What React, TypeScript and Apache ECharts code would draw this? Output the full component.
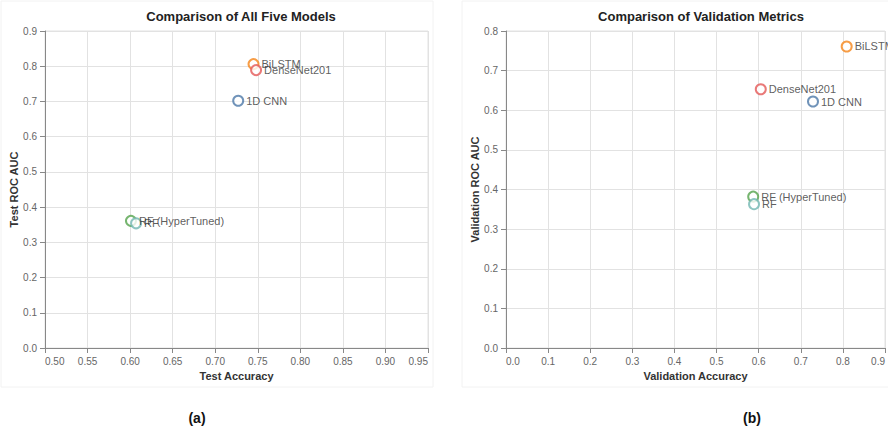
import React, { useEffect, useRef } from "react";
import * as echarts from "echarts";

const models = ["BiLSTM", "DenseNet201", "1D CNN", "RF (HyperTuned)", "RF"];
const colors = ["#f58518", "#e45756", "#4c78a8", "#54a24b", "#72b7b2"];
const testAccuracy = [0.745, 0.748, 0.727, 0.601, 0.607];
const testRocAuc = [0.806, 0.789, 0.702, 0.361, 0.354];
const valAccuracy = [0.809, 0.605, 0.729, 0.587, 0.589];
const valRocAuc = [0.761, 0.653, 0.622, 0.382, 0.363];

const FONT = "Liberation Sans, Arial, sans-serif";

function axisCommon(name: string, gap: number) {
  return {
    type: "value" as const,
    name,
    nameLocation: "middle" as const,
    nameGap: gap,
    nameTextStyle: { fontFamily: FONT, fontSize: 11, fontWeight: "bold", color: "#333" },
    axisLine: { show: true, lineStyle: { color: "#888", width: 1 } },
    axisTick: { show: true, length: 5, lineStyle: { color: "#888" } },
    axisLabel: {
      fontFamily: FONT,
      fontSize: 10,
      color: "#666",
      formatter: (v: number) => v.toFixed(1),
    },
    splitLine: { show: true, lineStyle: { color: "#e2e2e2", width: 1 } },
  };
}

export default function App() {
  const ref = useRef<HTMLDivElement>(null);
  useEffect(() => {
    if (!ref.current) return;
    const chart = echarts.init(ref.current, undefined, { renderer: "svg" });

    const series: any[] = [];
    models.forEach((m, i) => {
      const mk = (xi: number, yi: number, xv: number, yv: number) => ({
        type: "scatter",
        name: m,
        xAxisIndex: xi,
        yAxisIndex: yi,
        symbol: "emptyCircle",
        symbolSize: 10,
        itemStyle: { color: colors[i], borderColor: colors[i], borderWidth: 1.5 },
        label: {
          show: true,
          position: "right",
          distance: 2,
          formatter: m,
          fontFamily: FONT,
          fontSize: 11,
          color: "#333",
        },
        data: [[xv, yv]],
      });
      series.push(mk(0, 0, testAccuracy[i], testRocAuc[i]));
      series.push(mk(1, 1, valAccuracy[i], valRocAuc[i]));
    });

    const xLeft: any = axisCommon("Test Accuracy", 22);
    xLeft.gridIndex = 0;
    xLeft.min = 0.5;
    xLeft.max = 0.95;
    xLeft.interval = 0.05;
    xLeft.axisLabel = { ...xLeft.axisLabel, formatter: (v: number) => v.toFixed(2), alignMinLabel: "left", alignMaxLabel: "right" };

    const xRight: any = axisCommon("Validation Accuracy", 22);
    xRight.gridIndex = 1;
    xRight.min = 0;
    xRight.max = 0.9;
    xRight.interval = 0.1;
    xRight.axisLabel = { ...xRight.axisLabel, alignMinLabel: "left", alignMaxLabel: "right" };

    const yLeft: any = axisCommon("Test ROC AUC", 26);
    yLeft.gridIndex = 0;
    yLeft.min = 0;
    yLeft.max = 0.9;
    yLeft.interval = 0.1;

    const yRight: any = axisCommon("Validation ROC AUC", 26);
    yRight.gridIndex = 1;
    yRight.min = 0;
    yRight.max = 0.8;
    yRight.interval = 0.1;

    chart.setOption({
      animation: false,
      backgroundColor: "#ffffff",
      title: [
        {
          text: "Comparison of All Five Models",
          left: 236,
          top: 5,
          textAlign: "center",
          textStyle: { fontFamily: FONT, fontSize: 13, fontWeight: "bold", color: "#222" },
        },
        {
          text: "Comparison of Validation Metrics",
          left: 696,
          top: 5,
          textAlign: "center",
          textStyle: { fontFamily: FONT, fontSize: 13, fontWeight: "bold", color: "#222" },
        },
      ],
      grid: [
        { left: 45, top: 31, width: 383, height: 317, show: true, borderColor: "#e2e2e2", borderWidth: 1, backgroundColor: "transparent" },
        { left: 506, top: 31, width: 382, height: 317, show: true, borderColor: "#e2e2e2", borderWidth: 1, backgroundColor: "transparent" },
      ],
      xAxis: [xLeft, xRight],
      yAxis: [yLeft, yRight],
      graphic: [
        { type: "rect", shape: { x: 1, y: 1, width: 432, height: 386 }, style: { fill: "none", stroke: "#f2f2f2", lineWidth: 1 }, z: -1 },
        { type: "rect", shape: { x: 462, y: 1, width: 440, height: 386 }, style: { fill: "none", stroke: "#f2f2f2", lineWidth: 1 }, z: -1 },
        { type: "text", x: 197, y: 418, style: { text: "(a)", fontFamily: FONT, fontSize: 14, fontWeight: "bold", fill: "#111", align: "center", verticalAlign: "middle" } },
        { type: "text", x: 752, y: 418, style: { text: "(b)", fontFamily: FONT, fontSize: 14, fontWeight: "bold", fill: "#111", align: "center", verticalAlign: "middle" } },
      ],
      series,
    });
    return () => chart.dispose();
  }, []);
  return (
    <div
      ref={ref}
      style={{ position: "absolute", left: 0, top: 0, width: 888, height: 433, overflow: "hidden" }}
    />
  );
}
